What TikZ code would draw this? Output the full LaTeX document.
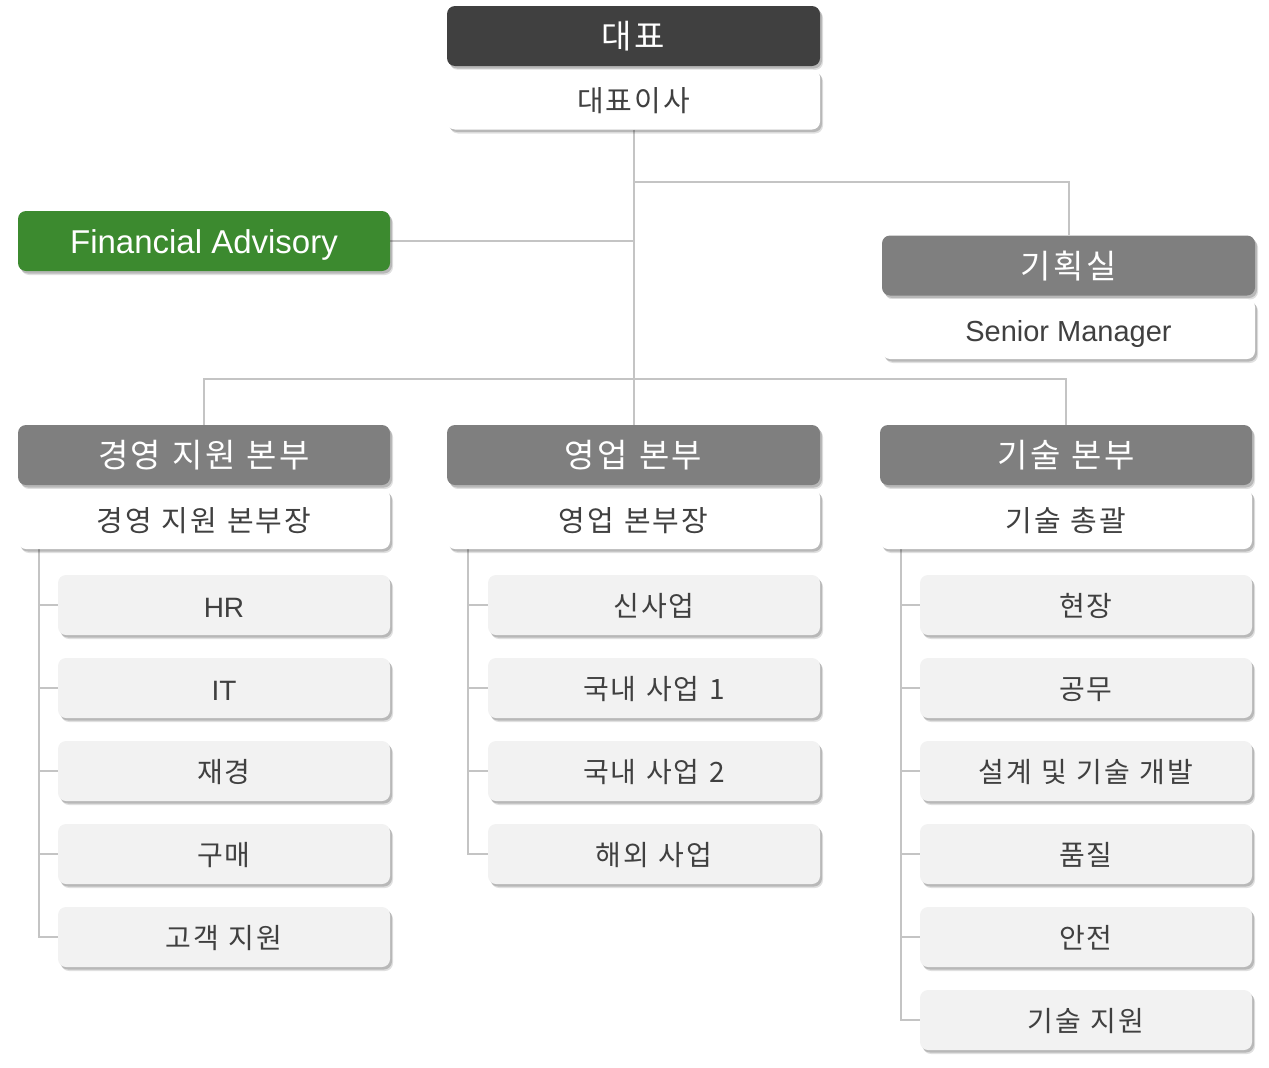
\documentclass[tikz,border=0pt]{standalone}
\usepackage{fontspec}
\setmainfont{Liberation Sans}
\newfontfamily\kr[LetterSpace=7,WordSpace=1.15]{Noto Sans CJK KR}
\usetikzlibrary{shadows,backgrounds}
\definecolor{darkhead}{HTML}{404040}
\definecolor{grayhead}{HTML}{7F7F7F}
\definecolor{greenhead}{HTML}{3C8A2F}
\definecolor{itemfill}{HTML}{F2F2F2}
\definecolor{linecol}{HTML}{C4C4C4}
\definecolor{txt}{HTML}{404040}
\newcommand\latin[1]{\fontsize{#1}{#1}\selectfont}
\tikzset{
  boxbase/.style={rounded corners=8pt, inner sep=0pt, minimum height=60pt, align=center, text depth=0pt,
    drop shadow={shadow xshift=3pt, shadow yshift=-4pt, opacity=0.12, fill=black},
    drop shadow={shadow xshift=2pt, shadow yshift=-2.5pt, opacity=0.18, fill=black}},
  headbox/.style={boxbase, minimum width=373pt, text=white, text height=25pt, font=\fontsize{33}{36}\selectfont},
  darkbox/.style={headbox, fill=darkhead},
  graybox/.style={headbox, fill=grayhead},
  greenbox/.style={headbox, fill=greenhead},
  subbox/.style={boxbase, fill=white, minimum width=373pt, text=txt, text height=24pt, font=\fontsize{29}{32}\selectfont},
  itembox/.style={boxbase, fill=itemfill, minimum width=332pt, text=txt, text height=22pt, font=\fontsize{28}{32}\selectfont},
  conn/.style={draw=linecol, line width=2pt}
}
\begin{document}
\begin{tikzpicture}[x=1pt,y=-1pt]
\useasboundingbox (0,0) rectangle (1269,1068);
% top
\node[darkbox] (ceo) at (633.5,36) {\kr 대표};
\node[subbox] (ceoname) at (633.5,99.5) {\kr 대표이사};
\node[greenbox, minimum width=372pt, text height=25pt] (fa) at (204,241) {\latin{33}Financial Advisory};
\node[graybox] (plan) at (1068.5,265.5) {\kr 기획실};
\node[subbox, text height=24pt] (plansub) at (1068.5,329) {\latin{29}Senior Manager};
% divisions
\node[graybox, minimum width=372pt] (mg) at (204,455) {\kr 경영 지원 본부};
\node[subbox, minimum width=372pt] (mgsub) at (204,519) {\kr 경영 지원 본부장};
\node[graybox] (sales) at (633.5,455) {\kr 영업 본부};
\node[subbox] (salessub) at (633.5,519) {\kr 영업 본부장};
\node[graybox, minimum width=372pt] (tech) at (1066,455) {\kr 기술 본부};
\node[subbox, minimum width=372pt] (techsub) at (1066,519) {\kr 기술 총괄};
% left items
\node[itembox, text height=25pt] (l1) at (224,605) {\latin{28}HR};
\node[itembox, text height=25pt] (l2) at (224,688) {\latin{28}IT};
\node[itembox] (l3) at (224,771) {\kr 재경};
\node[itembox] (l4) at (224,854) {\kr 구매};
\node[itembox] (l5) at (224,937) {\kr 고객 지원};
% middle items
\node[itembox] (m1) at (654,605) {\kr 신사업};
\node[itembox] (m2) at (654,688) {\kr 국내 사업 1};
\node[itembox] (m3) at (654,771) {\kr 국내 사업 2};
\node[itembox] (m4) at (654,854) {\kr 해외 사업};
% right items
\node[itembox] (r1) at (1086,605) {\kr 현장};
\node[itembox] (r2) at (1086,688) {\kr 공무};
\node[itembox] (r3) at (1086,771) {\kr 설계 및 기술 개발};
\node[itembox] (r4) at (1086,854) {\kr 품질};
\node[itembox] (r5) at (1086,937) {\kr 안전};
\node[itembox] (r6) at (1086,1020) {\kr 기술 지원};
\coordinate (pj) at (633.5,182);
\begin{scope}[on background layer]
\draw[conn] (ceoname.south) -- (ceoname.south |- sales.north);
\draw[conn] (pj) -| (plan.north);
\draw[conn] (fa.east) -- (fa.east -| ceoname.south);
\draw[conn] (mg.north) -- ++(0,-46) -| (tech.north);
\foreach \n in {l1,l2,l3,l4,l5}
  \draw[conn] ([xshift=21pt]mgsub.south west) |- (\n.west);
\foreach \n in {m1,m2,m3,m4}
  \draw[conn] ([xshift=21pt]salessub.south west) |- (\n.west);
\foreach \n in {r1,r2,r3,r4,r5,r6}
  \draw[conn] ([xshift=21pt]techsub.south west) |- (\n.west);
\end{scope}
\end{tikzpicture}
\end{document}
